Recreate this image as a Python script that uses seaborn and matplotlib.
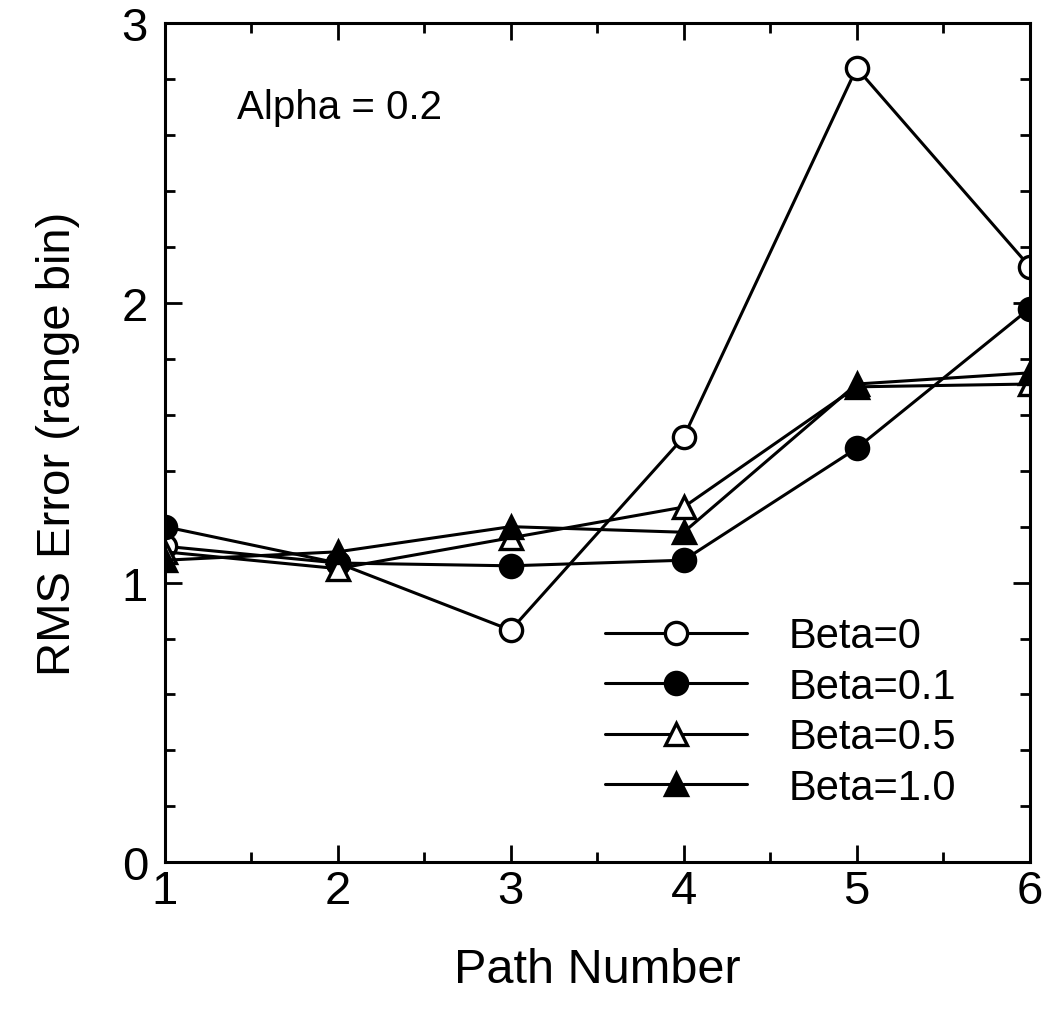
import matplotlib
matplotlib.use("Agg")
import matplotlib.pyplot as plt
from matplotlib.ticker import MultipleLocator
import seaborn as sns
import pandas as pd

paths = [1, 2, 3, 4, 5, 6]
beta_0 = [1.13, 1.07, 0.83, 1.52, 2.84, 2.13]
beta_01 = [1.20, 1.07, 1.06, 1.08, 1.48, 1.98]
beta_05 = [1.11, 1.05, 1.16, 1.27, 1.70, 1.71]
beta_10 = [1.08, 1.11, 1.20, 1.18, 1.71, 1.75]
labels = ["Beta=0", "Beta=0.1", "Beta=0.5", "Beta=1.0"]

sns.set_theme(style="ticks")
plt.rcParams["font.family"] = ["Liberation Sans", "DejaVu Sans"]
plt.rcParams["text.color"] = "black"
plt.rcParams["axes.labelcolor"] = "black"

frames = []
for lab, vals in zip(labels, [beta_0, beta_01, beta_05, beta_10]):
    frames.append(pd.DataFrame({"path": paths, "rms": vals, "series": lab}))
df = pd.concat(frames, ignore_index=True)

fig = plt.figure(figsize=(10.56, 10.12), dpi=100)
ax = fig.add_axes([0.156, 0.147, 0.819, 0.829])

styles = {
    "Beta=0": dict(marker="o", markerfacecolor="white", markersize=16),
    "Beta=0.1": dict(marker="o", markerfacecolor="black", markersize=16),
    "Beta=0.5": dict(marker="^", markerfacecolor="white", markersize=16),
    "Beta=1.0": dict(marker="^", markerfacecolor="black", markersize=16),
}
for lab in labels:
    sub = df[df["series"] == lab]
    sns.lineplot(data=sub, x="path", y="rms", ax=ax, color="black",
                 linewidth=2.2, markeredgecolor="black", markeredgewidth=2.4,
                 label=lab, **styles[lab])

ax.set_xlim(1, 6)
ax.set_ylim(0, 3)
ax.xaxis.set_major_locator(MultipleLocator(1))
ax.xaxis.set_minor_locator(MultipleLocator(0.5))
ax.yaxis.set_major_locator(MultipleLocator(1))
ax.yaxis.set_minor_locator(MultipleLocator(0.2))
ax.tick_params(which="both", direction="in", top=True, right=True,
               width=2, colors="black")
ax.tick_params(which="major", length=12, labelsize=34)
ax.tick_params(axis="x", which="major", pad=5)
ax.tick_params(axis="y", which="major", pad=12)
ax.tick_params(which="minor", length=7)
for sp in ax.spines.values():
    sp.set_linewidth(2.2)
    sp.set_color("black")

ax.set_xlabel("Path Number", fontsize=35, labelpad=24, color="black")
ax.set_ylabel("RMS Error (range bin)", fontsize=34, labelpad=30, color="black")

ax.text(0.083, 0.90, "Alpha = 0.2", transform=ax.transAxes,
        fontsize=29, va="center", ha="left", color="black")

leg = ax.legend(loc="upper left", bbox_to_anchor=(0.49, 0.313), frameon=False,
                fontsize=30, handlelength=3.4, handletextpad=1.0,
                labelspacing=0.25, borderaxespad=0)
for t in leg.get_texts():
    t.set_color("black")

fig.savefig("out.png", dpi=100, facecolor="white")
